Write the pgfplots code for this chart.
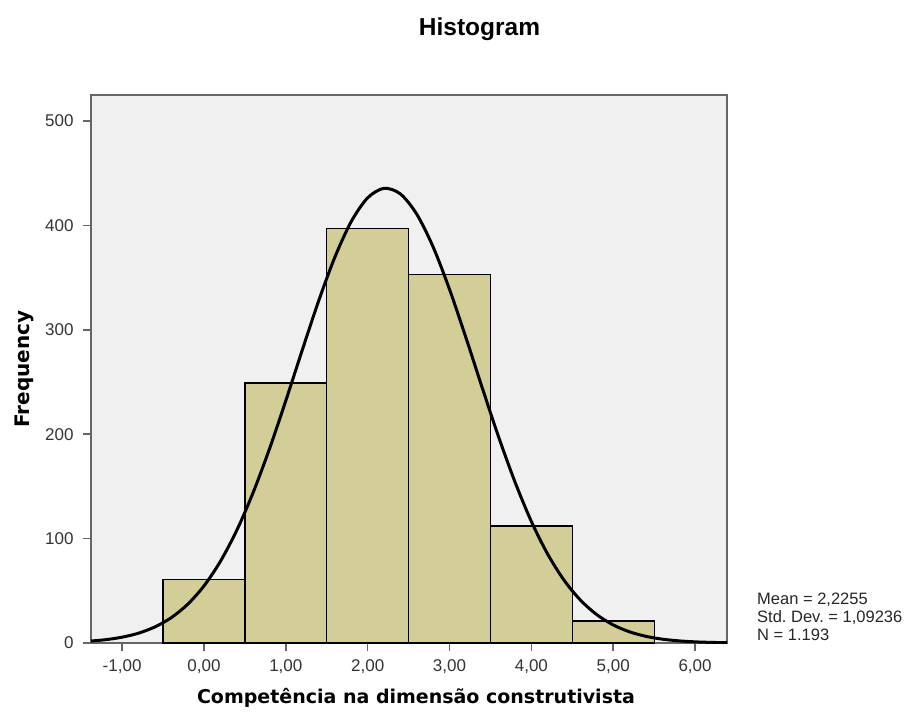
\documentclass[border=0pt]{standalone}
\usepackage{pgfplots}
\pgfplotsset{compat=1.18}
\usepackage{fontspec}
\setmainfont{Liberation Sans}
\newfontfamily\verdana{DejaVu Sans}
\definecolor{bgc}{HTML}{F0F0F0}
\definecolor{barc}{HTML}{D3CE98}
\definecolor{framec}{HTML}{666666}
\frenchspacing
\begin{document}
\begin{tikzpicture}
\begin{axis}[name=ax,
  scale only axis, width=636pt, height=548pt,
  xmin=-1.38, xmax=6.39, ymin=0, ymax=525,
  axis background/.style={fill=bgc},
  axis line style={framec, line width=1.2pt},
  xtick={-1,0,1,2,3,4,5,6},
  xticklabels={{-1,00},{0,00},{1,00},{2,00},{3,00},{4,00},{5,00},{6,00}},
  ytick={0,100,200,300,400,500},
  yticklabels={0,100,200,300,400,500},
  xtick pos=left, ytick pos=left,
  tick align=outside, major tick length=8pt,
  tick style={framec, line width=1.5pt},
  ticklabel style={font=\fontsize{17}{20}\selectfont, text=black!80},
  xticklabel style={yshift=-5pt},
  yticklabel style={xshift=-6pt},
  xlabel={Competência na dimensão construtivista},
  ylabel={Frequency},
  xlabel style={font=\verdana\bfseries\fontsize{19}{22}\selectfont, at={(axis description cs:0.511,-0.1095)}, anchor=base},
  ylabel style={font=\verdana\bfseries\fontsize{20}{22}\selectfont, at={(axis description cs:-0.097,0.5)}, anchor=base},
  clip=true,
]
\addplot[ybar interval, fill=barc, draw=black, line width=1.3pt] coordinates {
  (-0.5,61) (0.5,249) (1.5,397) (2.5,353) (3.5,112) (4.5,21) (5.5,21)
};
\addplot[black, line width=3pt, smooth] coordinates {
  (-1.4,1.77) (-1.2,3.19) (-1.0,5.57) (-0.8,9.41) (-0.6,15.36) (-0.4,24.25)
  (-0.2,37.03) (0.0,54.69) (0.2,78.09) (0.4,107.83) (0.6,144.0) (0.8,185.9)
  (1.0,232.2) (1.2,280.4) (1.4,327.5) (1.6,369.8) (1.8,403.9) (2.0,426.5)
  (2.2,435.6) (2.4,430.2) (2.6,410.8) (2.8,379.4) (3.0,338.8)
  (3.2,292.7) (3.4,244.4) (3.6,197.4) (3.8,154.2) (4.0,116.4) (4.2,85.05)
  (4.4,60.08) (4.6,41.03) (4.8,27.11) (5.0,17.31) (5.2,10.70) (5.4,6.39)
  (5.6,3.69) (5.8,2.06) (6.0,1.11) (6.2,0.58) (6.4,0.29)
};
\end{axis}
\node[anchor=base, font=\bfseries\fontsize{24.5}{28}\selectfont] at ([xshift=388.5pt,yshift=59pt]ax.north west) {Histogram};
\node[anchor=base west, align=left, inner sep=0pt, font=\fontsize{16.5}{18}\selectfont, text=black!85] at ([xshift=30pt,yshift=3pt]ax.south east) {Mean = 2,2255\\Std. Dev. = 1,09236\\N = 1.193};
\path[use as bounding box] ([xshift=-91pt,yshift=-70pt]ax.south west) rectangle ([xshift=184pt,yshift=95pt]ax.north east);
\end{tikzpicture}
\end{document}
